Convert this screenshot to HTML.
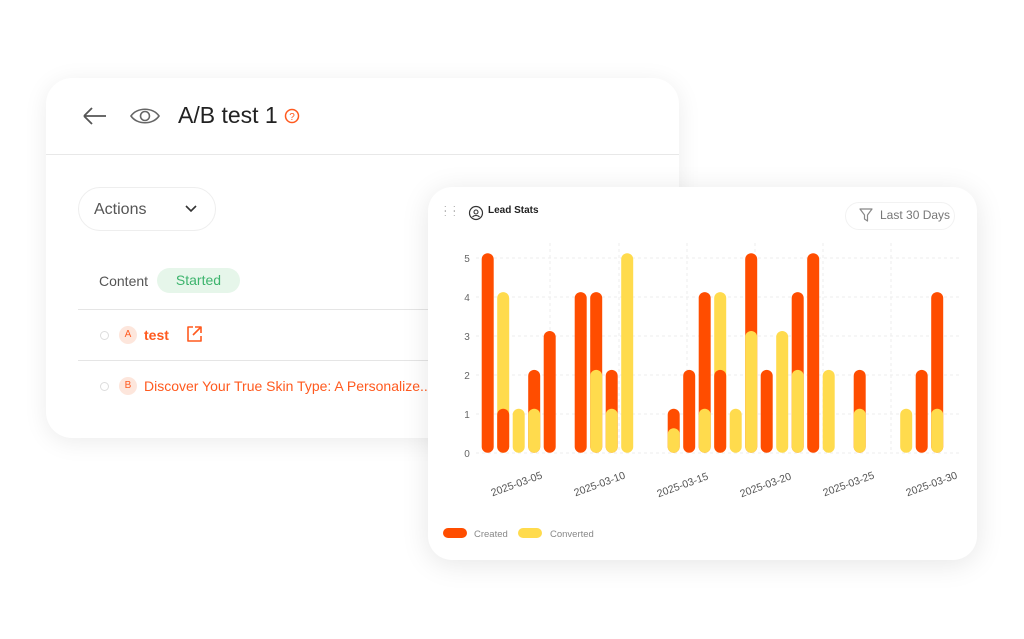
<!DOCTYPE html>
<html><head><meta charset="utf-8"><style>
body{margin:0;width:1024px;height:639px;background:#fff;position:relative;overflow:hidden;font-family:"Liberation Sans",sans-serif}
.card1{position:absolute;left:46px;top:78px;width:633px;height:360px;background:#fff;border-radius:26px;box-shadow:0 4px 24px rgba(0,0,0,0.08)}
.card2{position:absolute;left:428px;top:187px;width:549px;height:373px;background:#fff;border-radius:24px;box-shadow:0 4px 28px rgba(0,0,0,0.10)}
.abs{position:absolute}
</style></head><body>
<div class="card1">
  <div class="abs" style="left:0;top:76px;width:633px;height:1px;background:#e8e8e8"></div>
  <svg class="abs" style="left:34px;top:26px" width="30" height="24"><path d="M4 12H26M4 12L12 4M4 12L12 20" stroke="#555" stroke-width="1.8" fill="none"/></svg>
  <svg class="abs" style="left:82px;top:26px" width="34" height="24"><path d="M3 12C9 3 25 3 31 12C25 21 9 21 3 12Z" stroke="#666" stroke-width="1.6" fill="none"/><circle cx="17" cy="12" r="4.5" stroke="#666" stroke-width="1.6" fill="none"/></svg>
  <div class="abs" style="left:132px;top:24px;font-size:23px;color:#222">A/B test 1</div>
  <svg class="abs" style="left:238px;top:30px" width="16" height="16"><circle cx="8" cy="8" r="6.5" stroke="#ff5a1f" stroke-width="1.5" fill="none"/><text x="8" y="12" font-size="10" text-anchor="middle" fill="#ff5a1f" font-family="Liberation Sans">?</text></svg>
  <div class="abs" style="left:32px;top:109px;width:136px;height:42px;border:1px solid #eee;border-radius:22px"></div>
  <div class="abs" style="left:48px;top:123px;font-size:16px;color:#555">Actions</div>
  <svg class="abs" style="left:138px;top:126px" width="14" height="10"><path d="M2 2L7 7L12 2" stroke="#333" stroke-width="1.6" fill="none"/></svg>
  <div class="abs" style="left:53px;top:195px;font-size:14px;color:#555">Content</div>
  <div class="abs" style="left:111px;top:190px;width:83px;height:25px;border-radius:13px;background:#e6f6ea;color:#3db46d;font-size:14px;text-align:center;line-height:25px">Started</div>
  <div class="abs" style="left:32px;top:231px;width:601px;height:1px;background:#e5e5e5"></div>
  <div class="abs" style="left:32px;top:282px;width:601px;height:1px;background:#e5e5e5"></div>
  <div class="abs" style="left:54px;top:253px;width:7px;height:7px;border:1px solid #ddd;border-radius:50%"></div>
  <div class="abs" style="left:73px;top:248px;width:18px;height:18px;border-radius:50%;background:#fde6dc;color:#ff5a1f;font-size:10px;text-align:center;line-height:18px">A</div>
  <div class="abs" style="left:98px;top:249px;font-size:14px;color:#ff5a1f;font-weight:bold">test</div>
  <svg class="abs" style="left:139px;top:247px" width="18" height="18"><path d="M8 2H3V16H16V11M10 2H16V8M16 2L8 10" stroke="#ff5a1f" stroke-width="1.6" fill="none" stroke-linejoin="round"/></svg>
  <div class="abs" style="left:54px;top:304px;width:7px;height:7px;border:1px solid #ddd;border-radius:50%"></div>
  <div class="abs" style="left:73px;top:299px;width:18px;height:18px;border-radius:50%;background:#fde6dc;color:#ff5a1f;font-size:10px;text-align:center;line-height:18px">B</div>
  <div class="abs" style="left:98px;top:300px;font-size:14px;color:#ff5a1f;white-space:nowrap">Discover Your True Skin Type: A Personalize...</div>
</div>
<div class="card2">
  <div class="abs" style="left:16px;top:19px;font-size:9px;color:#999;line-height:5px;letter-spacing:2px">: :<br>: :</div>
  <svg class="abs" style="left:38px;top:16px" width="18" height="18"><circle cx="10" cy="10" r="6.5" stroke="#333" stroke-width="1.2" fill="none"/><circle cx="10" cy="9" r="2" stroke="#333" stroke-width="1.1" fill="none"/><path d="M6.5 14C8 12 12 12 13.5 14" stroke="#333" stroke-width="1.1" fill="none"/></svg>
  <div class="abs" style="left:60px;top:18px;font-size:10px;font-weight:bold;color:#222">Lead Stats</div>
  <div class="abs" style="left:417px;top:15px;width:108px;height:26px;border:1px solid #f2f2f2;border-radius:14px"></div>
  <svg class="abs" style="left:431px;top:21px" width="14" height="15"><path d="M1 1H13L8.5 7V13L5.5 11V7Z" stroke="#888" stroke-width="1.2" fill="none" stroke-linejoin="round"/></svg>
  <div class="abs" style="left:452px;top:21px;font-size:12px;color:#777">Last 30 Days</div>
</div>
<svg class="abs" style="left:0;top:0" width="1024" height="639">
  <g stroke="#eeeeee" stroke-dasharray="3,3" stroke-width="1">
    <line x1="476" y1="258" x2="962" y2="258"/><line x1="476" y1="297" x2="962" y2="297"/><line x1="476" y1="336" x2="962" y2="336"/><line x1="476" y1="375" x2="962" y2="375"/><line x1="476" y1="414" x2="962" y2="414"/><line x1="476" y1="453" x2="962" y2="453"/>
    <line x1="550" y1="243" x2="550" y2="453"/><line x1="619" y1="243" x2="619" y2="453"/><line x1="687" y1="243" x2="687" y2="453"/><line x1="755" y1="243" x2="755" y2="453"/><line x1="823" y1="243" x2="823" y2="453"/><line x1="891" y1="243" x2="891" y2="453"/>
  </g>
  <g font-size="10" fill="#666" font-family="Liberation Sans" text-anchor="middle">
    <text x="467" y="262">5</text><text x="467" y="301">4</text><text x="467" y="340">3</text><text x="467" y="379">2</text><text x="467" y="418">1</text><text x="467" y="457">0</text>
  </g>
  <g font-size="10.5" fill="#555" font-family="Liberation Sans" text-anchor="end">
    <text transform="translate(543,478) rotate(-20)">2025-03-05</text>
    <text transform="translate(626,478) rotate(-20)">2025-03-10</text>
    <text transform="translate(709,479) rotate(-20)">2025-03-15</text>
    <text transform="translate(792,479) rotate(-20)">2025-03-20</text>
    <text transform="translate(875,478) rotate(-20)">2025-03-25</text>
    <text transform="translate(958,478) rotate(-20)">2025-03-30</text>
  </g>
  <g>
    <!-- R = #ff4d00, Y = #ffdb4d -->
    <rect x="481.7" y="253.2" width="12" height="199.5" rx="6" fill="#ff4d00"/>
    <rect x="497.2" y="292.1" width="12" height="160.6" rx="6" fill="#ffdb4d"/><rect x="497.2" y="408.8" width="12" height="43.9" rx="6" fill="#ff4d00"/>
    <rect x="512.7" y="408.8" width="12" height="43.9" rx="6" fill="#ffdb4d"/>
    <rect x="528.2" y="369.9" width="12" height="82.8" rx="6" fill="#ff4d00"/><rect x="528.2" y="408.8" width="12" height="43.9" rx="6" fill="#ffdb4d"/>
    <rect x="543.7" y="331" width="12" height="121.7" rx="6" fill="#ff4d00"/>
    <rect x="574.7" y="292.1" width="12" height="160.6" rx="6" fill="#ff4d00"/>
    <rect x="590.2" y="292.1" width="12" height="160.6" rx="6" fill="#ff4d00"/><rect x="590.2" y="369.9" width="12" height="82.8" rx="6" fill="#ffdb4d"/>
    <rect x="605.7" y="369.9" width="12" height="82.8" rx="6" fill="#ff4d00"/><rect x="605.7" y="408.8" width="12" height="43.9" rx="6" fill="#ffdb4d"/>
    <rect x="621.2" y="253.2" width="12" height="199.5" rx="6" fill="#ffdb4d"/>
    <rect x="667.7" y="408.8" width="12" height="43.9" rx="6" fill="#ff4d00"/><rect x="667.7" y="428.3" width="12" height="24.4" rx="6" fill="#ffdb4d"/>
    <rect x="683.2" y="369.9" width="12" height="82.8" rx="6" fill="#ff4d00"/>
    <rect x="698.7" y="292.1" width="12" height="160.6" rx="6" fill="#ff4d00"/><rect x="698.7" y="408.8" width="12" height="43.9" rx="6" fill="#ffdb4d"/>
    <rect x="714.2" y="292.1" width="12" height="160.6" rx="6" fill="#ffdb4d"/><rect x="714.2" y="369.9" width="12" height="82.8" rx="6" fill="#ff4d00"/>
    <rect x="729.7" y="408.8" width="12" height="43.9" rx="6" fill="#ffdb4d"/>
    <rect x="745.2" y="253.2" width="12" height="199.5" rx="6" fill="#ff4d00"/><rect x="745.2" y="331" width="12" height="121.7" rx="6" fill="#ffdb4d"/>
    <rect x="760.7" y="369.9" width="12" height="82.8" rx="6" fill="#ff4d00"/>
    <rect x="776.2" y="331" width="12" height="121.7" rx="6" fill="#ffdb4d"/>
    <rect x="791.7" y="292.1" width="12" height="160.6" rx="6" fill="#ff4d00"/><rect x="791.7" y="369.9" width="12" height="82.8" rx="6" fill="#ffdb4d"/>
    <rect x="807.2" y="253.2" width="12" height="199.5" rx="6" fill="#ff4d00"/>
    <rect x="822.7" y="369.9" width="12" height="82.8" rx="6" fill="#ffdb4d"/>
    <rect x="853.7" y="369.9" width="12" height="82.8" rx="6" fill="#ff4d00"/><rect x="853.7" y="408.8" width="12" height="43.9" rx="6" fill="#ffdb4d"/>
    <rect x="900.2" y="408.8" width="12" height="43.9" rx="6" fill="#ffdb4d"/>
    <rect x="915.7" y="369.9" width="12" height="82.8" rx="6" fill="#ff4d00"/>
    <rect x="931.2" y="292.1" width="12" height="160.6" rx="6" fill="#ff4d00"/><rect x="931.2" y="408.8" width="12" height="43.9" rx="6" fill="#ffdb4d"/>
  </g>
  <rect x="443" y="528" width="24" height="10" rx="5" fill="#ff4d00"/>
  <text x="474" y="537" font-size="9.5" fill="#888" font-family="Liberation Sans">Created</text>
  <rect x="518" y="528" width="24" height="10" rx="5" fill="#ffdb4d"/>
  <text x="550" y="537" font-size="9.5" fill="#888" font-family="Liberation Sans">Converted</text>
</svg>
</body></html>
